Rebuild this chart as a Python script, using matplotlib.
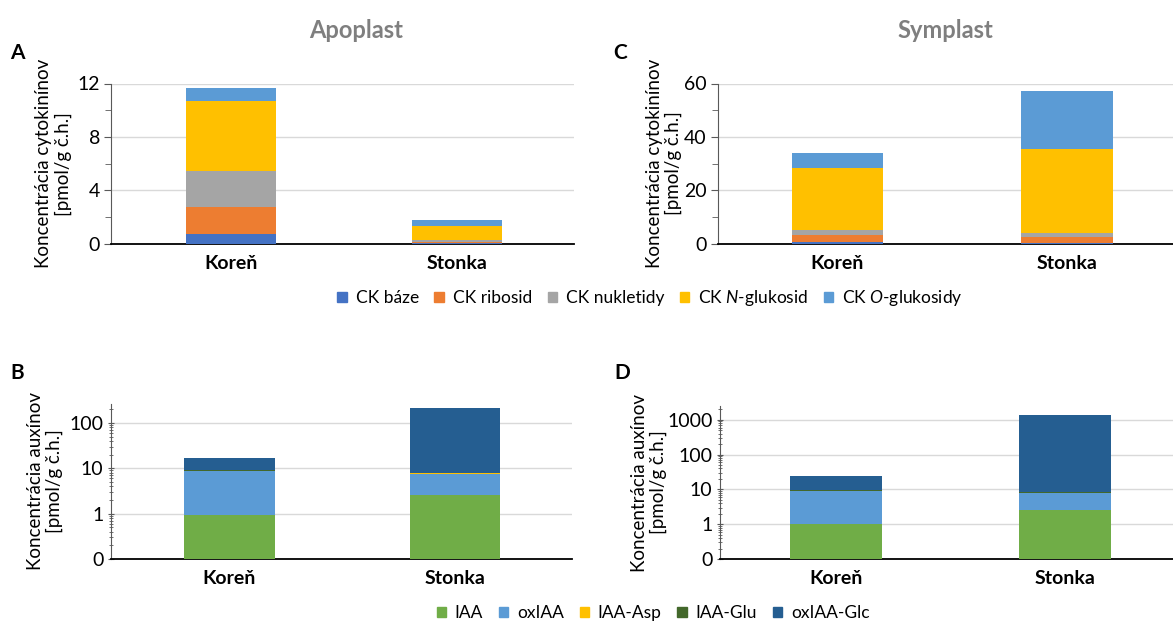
import numpy as np
import matplotlib
matplotlib.use("Agg")
import matplotlib.pyplot as plt
from matplotlib.patches import Patch
from matplotlib.ticker import FixedLocator, FixedFormatter, LogLocator, NullFormatter

plt.rcParams['font.family'] = ['Lato', 'DejaVu Sans']
plt.rcParams['mathtext.fontset'] = 'custom'
plt.rcParams['mathtext.rm'] = 'Lato'
plt.rcParams['mathtext.it'] = 'Lato:italic'

# data
categories = ['Koreň', 'Stonka']

ck_labels = ['CK báze', 'CK ribosid', 'CK nukletidy', 'CK $\\mathit{N}$-glukosid', 'CK $\\mathit{O}$-glukosidy']
ck_colors = ['#4472C4', '#ED7D31', '#A5A5A5', '#FFC000', '#5B9BD5']
ck_apoplast = [[0.77, 0.05], [1.96, 0.12], [2.74, 0.15], [5.23, 1.05], [0.93, 0.42]]
ck_symplast = [[0.5, 0.3], [2.6, 2.3], [2.15, 1.25], [23.05, 31.55], [5.7, 21.8]]

aux_labels = ['IAA', 'oxIAA', 'IAA-Asp', 'IAA-Glu', 'oxIAA-Glc']
aux_colors = ['#70AD47', '#5B9BD5', '#FFC000', '#43682B', '#255E91']
aux_apoplast = [[0.93, 2.6], [7.87, 4.95], [0.05, 0.4], [0.15, 0.05], [8.0, 206]]
aux_symplast = [[1.0, 2.56], [7.9, 5.5], [0.4, 0.05], [0.05, 0.35], [15.6, 1380]]

W, H = 1173, 624
fig = plt.figure(figsize=(W / 100, H / 100), dpi=100)


def rect(x0, x1, y0, y1):
    return [x0 / W, 1 - y1 / H, (x1 - x0) / W, (y1 - y0) / H]


def stacked(ax, series, colors, xlim):
    x = np.arange(len(categories))
    bottom = np.zeros(len(categories))
    for vals, c in zip(series, colors):
        ax.bar(x, vals, 0.4, bottom=bottom, color=c, linewidth=0, zorder=3)
        bottom = bottom + np.array(vals)
    ax.set_xlim(*xlim)
    ax.set_xticks(x)
    ax.set_xticklabels(categories, fontsize=14, fontweight='bold')
    ax.tick_params(axis='x', length=0, pad=8)
    ax.tick_params(axis='y', which='major', direction='out', length=5, labelsize=14, pad=3, color='#595959')
    ax.tick_params(axis='y', which='minor', direction='out', length=4, color='#595959')
    for s in ['top', 'right']:
        ax.spines[s].set_visible(False)
    ax.spines['left'].set_color('#595959')
    ax.spines['bottom'].set_color('black')
    ax.spines['bottom'].set_linewidth(1.3)
    ax.yaxis.grid(True, which='major', color='#D9D9D9', linewidth=1, zorder=0)
    ax.set_axisbelow(True)


# A
axA = fig.add_axes(rect(111, 574, 83.5, 244))
stacked(axA, ck_apoplast, ck_colors, (-0.53, 1.516))
axA.set_ylim(0, 12)
axA.set_yticks([0, 4, 8, 12])
axA.set_yticks([2, 6, 10], minor=True)
axA.set_ylabel('Koncentrácia cytokinínov\n[pmol/g č.h.]', fontsize=13.5, linespacing=1.15)
axA.yaxis.set_label_coords(-0.085, 0.5)

# C
axC = fig.add_axes(rect(718, 1173, 83.5, 243.5))
stacked(axC, ck_symplast, ck_colors, (-0.52, 1.46))
axC.set_ylim(0, 60)
axC.set_yticks([0, 20, 40, 60])
axC.set_yticks([10, 30, 50], minor=True)
axC.set_ylabel('Koncentrácia cytokinínov\n[pmol/g č.h.]', fontsize=13.5, linespacing=1.15)
axC.yaxis.set_label_coords(-0.079, 0.5)


def log_axis(ax, top, ticks):
    ax.set_yscale('log')
    ax.set_ylim(0.1, top)
    ax.yaxis.set_major_locator(FixedLocator(ticks))
    ax.yaxis.set_major_formatter(FixedFormatter(['0'] + [str(int(t)) for t in ticks[1:]]))
    ax.yaxis.set_minor_locator(LogLocator(base=10, subs=np.arange(2, 10), numticks=20))
    ax.yaxis.set_minor_formatter(NullFormatter())
    ax.tick_params(axis='y', which='minor', length=3, direction='inout')
    ax.tick_params(axis='y', which='major', length=5, direction='inout')


# B
axB = fig.add_axes(rect(111, 572, 404, 559))
stacked(axB, aux_apoplast, aux_colors, (-0.525, 1.517))
log_axis(axB, 264, [0.1, 1, 10, 100])
axB.yaxis.grid(False, which='major')
for t in [1, 10, 100]:
    axB.axhline(t, color='#D9D9D9', linewidth=1, zorder=0)
axB.set_ylabel('Koncentrácia auxínov\n[pmol/g č.h.]', fontsize=13.5, linespacing=1.15)
axB.yaxis.set_label_coords(-0.104, 0.5)

# D
axD = fig.add_axes(rect(720, 1173, 406, 559))
stacked(axD, aux_symplast, aux_colors, (-0.507, 1.47))
log_axis(axD, 2500, [0.1, 1, 10, 100, 1000])
axD.yaxis.grid(False, which='major')
for t in [1, 10, 100, 1000]:
    axD.axhline(t, color='#D9D9D9', linewidth=1, zorder=0)
axD.set_ylabel('Koncentrácia auxínov\n[pmol/g č.h.]', fontsize=13.5, linespacing=1.15)
axD.yaxis.set_label_coords(-0.117, 0.5)

# titles and panel letters
fig.text(356 / W, 1 - 30 / H, 'Apoplast', fontsize=17, fontweight='bold', color='#7F7F7F', ha='center', va='center')
fig.text(945 / W, 1 - 30 / H, 'Symplast', fontsize=17, fontweight='bold', color='#7F7F7F', ha='center', va='center')
for letter, px, py in [('A', 17, 53), ('C', 620, 53), ('B', 17, 373), ('D', 622, 373)]:
    fig.text(px / W, 1 - py / H, letter, fontsize=15, fontweight='bold', ha='center', va='center')

# legends
ck_handles = [Patch(color=c) for c in ck_colors]
fig.legend(ck_handles, ck_labels, ncol=5, loc='center', bbox_to_anchor=(650 / W, 1 - 298 / H),
           frameon=False, fontsize=12.5, handlelength=0.55, handleheight=0.55, handletextpad=0.5,
           columnspacing=0.9)
aux_handles = [Patch(color=c) for c in aux_colors]
fig.legend(aux_handles, aux_labels, ncol=5, loc='center', bbox_to_anchor=(653 / W, 1 - 613 / H),
           frameon=False, fontsize=12.5, handlelength=0.55, handleheight=0.55, handletextpad=0.5,
           columnspacing=0.9)

plt.savefig('out.png', dpi=100)
